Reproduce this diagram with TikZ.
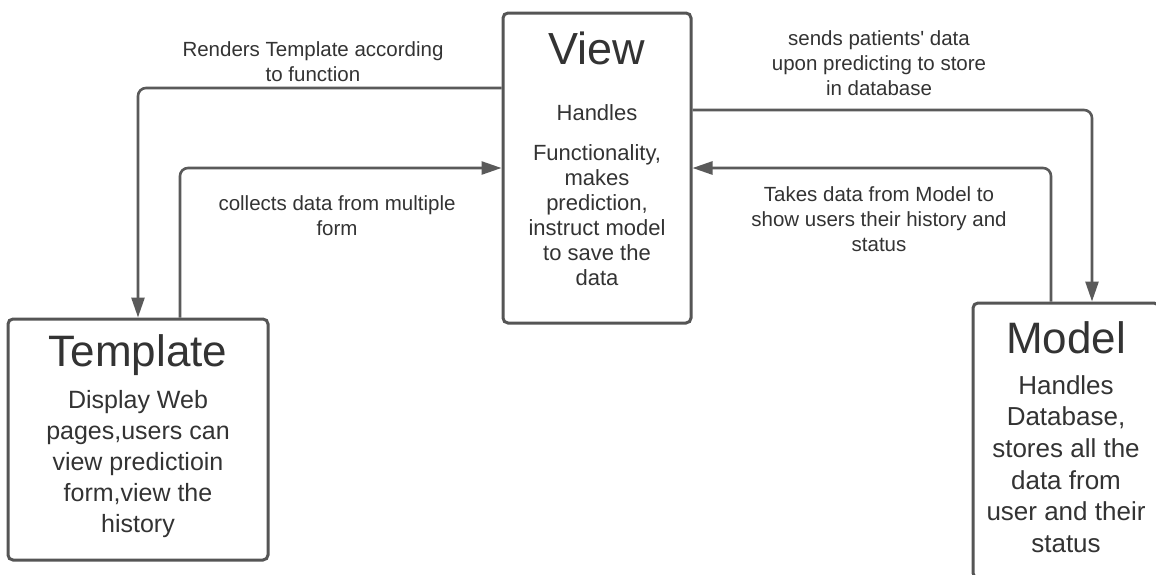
\documentclass[tikz,border=0pt]{standalone}
\usepackage{fontspec}
\newfontfamily\arial{Liberation Sans}
\usetikzlibrary{arrows.meta}
\definecolor{linegray}{HTML}{5A5A5A}
\definecolor{boxgray}{HTML}{555555}
\definecolor{txtgray}{HTML}{333333}
\begin{document}
\begin{tikzpicture}[x=1pt,y=-1pt,
  box/.style={draw=boxgray, line width=3pt, rounded corners=5pt, rectangle, inner sep=0pt, fill=white},
  conn/.style={draw=linegray, line width=2.6pt, rounded corners=8pt, -{Triangle[length=20pt,width=13pt]}},
  lbl/.style={text=txtgray, align=center, font=\arial\fontsize{20.5}{25}\selectfont, inner sep=0pt},
  ttl/.style={text=txtgray, align=center, font=\arial\fontsize{45}{50}\selectfont, inner sep=0pt},
]
\useasboundingbox (0,0) rectangle (1156,574);
\clip (0,0) rectangle (1156,574);
\fill[white] (0,0) rectangle (1156,574);

% boxes
\node[box, minimum width=188pt, minimum height=310pt] (View) at (597,168) {};
\node[box, minimum width=260pt, minimum height=241pt] (Template) at (138,439.5) {};
\node[box, minimum width=186pt, minimum height=275pt] (Model) at (1066,440.5) {};

% box texts
\node[ttl] (viewTitle) at (597,48) {View};
\node[text=txtgray, align=center, inner sep=0pt, font=\arial\fontsize{22}{25}\selectfont] (viewBody) at (597,195)
  {Handles\\[15pt]Functionality,\\makes\\prediction,\\instruct model\\to save the\\data};
\node[ttl, font=\arial\fontsize{44}{50}\selectfont] (templateTitle) at (138,355) {Template};
\node[text=txtgray, align=center, inner sep=0pt, font=\arial\fontsize{25}{31}\selectfont] (templateBody) at (138,464.5)
  {Display Web\\pages,users can\\view predictioin\\form,view the\\history};
\node[ttl, font=\arial\fontsize{44}{50}\selectfont] (modelTitle) at (1066,338) {Model};
\node[text=txtgray, align=center, inner sep=0pt, font=\arial\fontsize{26}{31.6}\selectfont] (modelBody) at (1066,464)
  {Handles\\Database,\\stores all the\\data from\\user and their\\status};

% connectors
\draw[conn] (View.west |- 0,88) -| (Template.north);
\draw[conn] (Template.north -| 180,0) |- (View.west);
\draw[conn] (View.east |- 0,110) -| (Model.north -| 1092,0);
\draw[conn] (Model.north -| 1051,0) |- (View.east);

% labels
\node[lbl] (l1) at (313,61.5) {Renders Template according\\to function};
\node[lbl] (l2) at (337,215.5) {collects data from multiple\\form};
\node[lbl] (l3) at (879,63) {sends patients' data\\upon predicting to store\\in database};
\node[lbl] (l4) at (879,219) {Takes data from Model to\\show users their history and\\status};
\end{tikzpicture}
\end{document}
